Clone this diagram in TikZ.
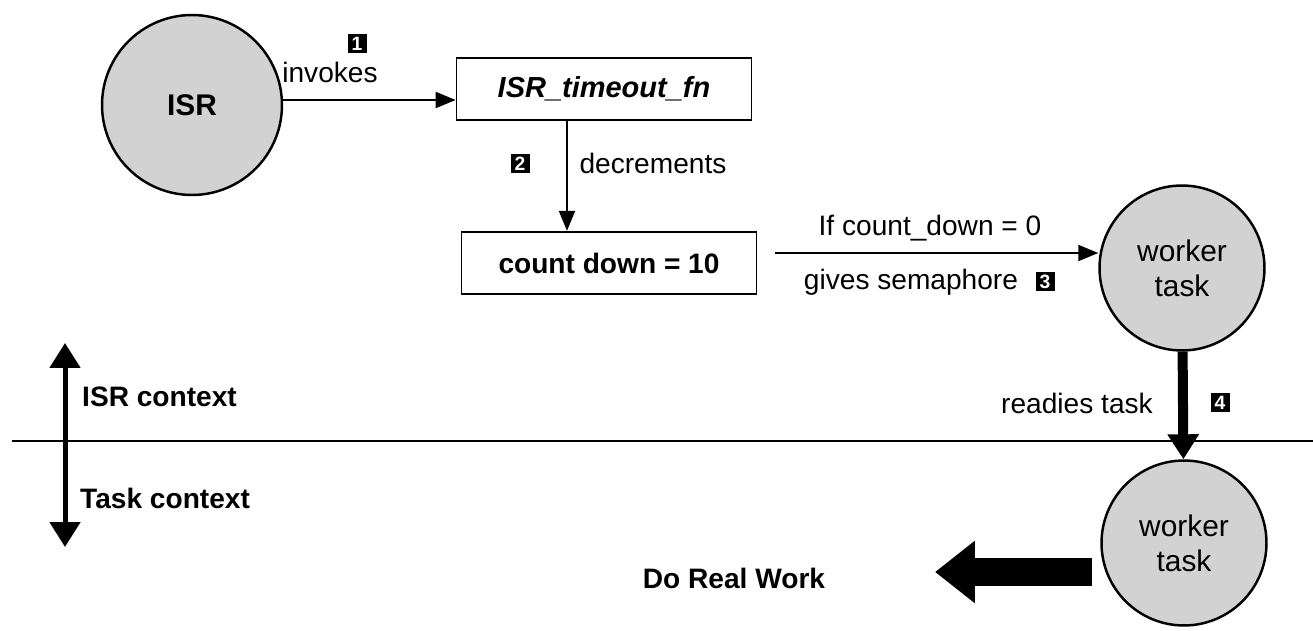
\documentclass[tikz,border=0pt]{standalone}
\usepackage{fontspec}
\setmainfont{Liberation Sans}
\usetikzlibrary{arrows.meta}
\tikzset{
  bubble/.style={circle,draw,line width=1.4pt,fill=gray!35,inner sep=0pt,align=center},
  fnbox/.style={draw,line width=1pt,minimum width=5.9cm,minimum height=1.25cm},
  badge/.style={fill=black,text=white,font=\bfseries\fontsize{11}{11}\selectfont,inner sep=1.5pt,minimum size=0.38cm},
  lbl/.style={font=\fontsize{16}{19}\selectfont},
  bold lbl/.style={font=\bfseries\fontsize{16}{19}\selectfont},
  thinarrow/.style={line width=1.1pt,-{Triangle[length=0.4cm,width=0.32cm]}},
}
\begin{document}
\begin{tikzpicture}[x=0.02cm,y=-0.02cm]
  \useasboundingbox (0,0) rectangle (1313,631);
  % top row
  \node[bubble,font=\bfseries\fontsize{17}{20}\selectfont,minimum size=3.6cm] (isr) at (192,105) {ISR};
  \node[fnbox,font=\bfseries\itshape\fontsize{16.5}{19}\selectfont] (tmo) at (604,89) {ISR\_timeout\_fn};
  \node[fnbox,bold lbl] (cnt) at (609,263) {count down = 10};
  \node[bubble,font=\fontsize{17}{20}\selectfont,minimum size=3.3cm] (wtop) at (1182,268) {worker\\task};
  \node[bubble,font=\fontsize{17}{20}\selectfont,minimum size=3.3cm] (wlow) at (1184,543) {worker\\task};
  % connectors
  \draw[thinarrow] (isr.east |- 0,100) -- (tmo.west |- 0,100);
  \draw[thinarrow] (tmo.south -| 567,0) -- (cnt.north -| 567,0);
  \draw[thinarrow] (775,253) coordinate (g0) -- (wtop.west |- 0,253);
  \draw[line width=0.2cm,-{Triangle[length=0.5cm,width=0.6cm]}] (wtop) -- (wlow);
  % labels
  \node[lbl] (inv) at (330,72) {invokes};
  \node[badge] (b1) at (357,44) {1};
  \node[lbl] (dec) at (653,163) {decrements};
  \node[badge] (b2) at (520,164) {2};
  \node[lbl] (ifc) at (930,228) {If count\_down = 0};
  \node[lbl] (giv) at (911,282) {gives semaphore};
  \node[badge] (b3) at (1045,282) {3};
  \node[lbl] (rdy) at (1077,403) {readies task};
  \node[badge] (b4) at (1220,403) {4};
  % contexts
  \draw[line width=1.6pt] (12,441) coordinate (l0) -- (1313,441) coordinate (l1);
  \draw[line width=0.1cm,{Triangle[length=0.5cm,width=0.6cm]}-{Triangle[length=0.5cm,width=0.6cm]}] (65,343) coordinate (c0) -- (65,547) coordinate (c1);
  \node[bold lbl,anchor=west] (isrc) at (76,397) {ISR context};
  \node[bold lbl,anchor=west] (tskc) at (74,498) {Task context};
  % real work
  \draw[line width=0.56cm,-{Triangle[length=0.8cm,width=1.2cm]}] (1092,572) coordinate (r0) -- (935,572) coordinate (r1);
  \node[bold lbl] (work) at (734,578) {Do Real Work};
\end{tikzpicture}
\end{document}
